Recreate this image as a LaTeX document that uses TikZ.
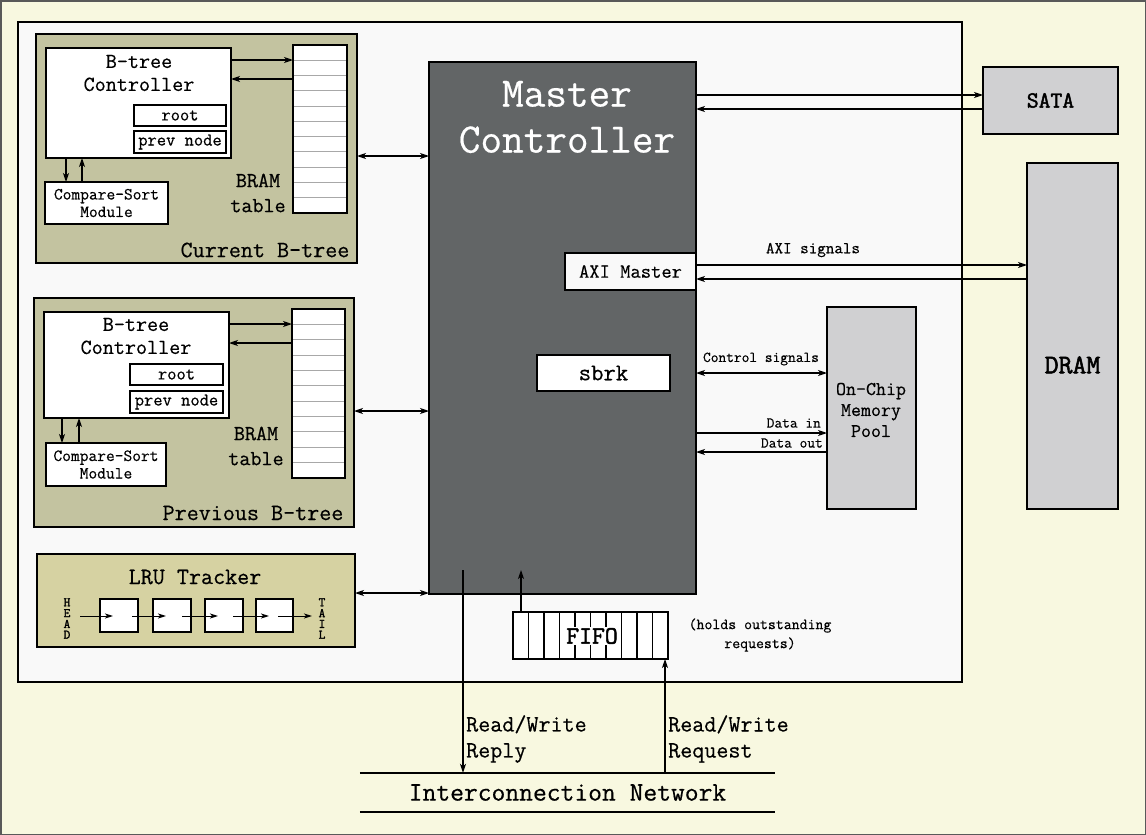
\documentclass[tikz,border=0pt]{standalone}
\usepackage{fontspec}
\setmainfont{Latin Modern Mono}[FakeBold=0.5]
\newfontfamily\boldmono{Latin Modern Mono}[FakeBold=2]
\usetikzlibrary{arrows.meta}
\definecolor{cream}{HTML}{F8F8E0}
\definecolor{panel}{HTML}{F9F9F9}
\definecolor{olive}{HTML}{C3C3A0}
\definecolor{lru}{HTML}{D6D2A2}
\definecolor{master}{HTML}{626566}
\definecolor{dev}{HTML}{D0D0D2}
\definecolor{rowline}{HTML}{A8A8A8}
\newcommand{\fs}[2]{\fontsize{#1}{#2}\selectfont}
\begin{document}
\begin{tikzpicture}[x=1pt,y=-1pt,
  blk/.style={draw=black, line width=1.6pt, inner sep=0pt, outer sep=0pt, anchor=north west},
  lbl/.style={inner sep=0pt, align=center},
  conn/.style={line width=1.2pt, -{Stealth[length=9pt,width=6pt,inset=2.5pt]}},
  dconn/.style={line width=1.2pt, {Stealth[length=9pt,width=6pt,inset=2.5pt]}-{Stealth[length=9pt,width=6pt,inset=2.5pt]}},
  sconn/.style={line width=1pt, -{Stealth[length=8pt,width=5pt,inset=2pt]}}
]
\path[use as bounding box] (0,0) rectangle (1146,835);
\draw[fill=cream, draw=gray!70!black, line width=1.5pt] (0.75,0.75) rectangle (1145.25,834.25);

% main panel
\node[blk, fill=panel, minimum width=944, minimum height=660] (panel) at (18,22) {};

% ---------- Current B-tree ----------
\node[blk, fill=olive, minimum width=321, minimum height=229] (cur) at (36,34) {};
\node[blk, fill=white, minimum width=185, minimum height=110] (curc) at (46,48) {};
\node[lbl, font=\fs{21.5}{23}] (curct) at (139,73) {B-tree\\Controller};
\node[blk, fill=white, minimum width=92, minimum height=21, font=\fs{18}{18}] (curroot) at (134,105) {root};
\node[blk, fill=white, minimum width=92, minimum height=22, font=\fs{18}{18}] (curprev) at (134,131) {prev node};
\node[blk, fill=white, minimum width=54, minimum height=168] (curbram) at (293,45) {};
\foreach \i in {1,...,10}
  \draw[rowline, line width=0.8pt] ([yshift=-\i*15.27pt]curbram.north west) -- ([yshift=-\i*15.27pt]curbram.north east);
\node[blk, draw=black, fill=none, minimum width=54, minimum height=168] at (293,45) {};
\node[lbl, font=\fs{21.5}{25}] (curbt) at (258,193) {BRAM\\table};
\node[blk, fill=white, minimum width=123, minimum height=42] (curcs) at (45,182) {};
\node[lbl, font=\fs{17}{17.5}] (curcst) at (curcs.center) {Compare-Sort\\Module};
\node[lbl, font=\fs{23.4}{24}] (curname) at (265,250) {Current B-tree};
\draw[conn] (curc.east |- 0,60) -- (curbram.west |- 0,60);
\draw[conn] (curbram.west |- 0,79) -- (curc.east |- 0,79);
\draw[conn] (curc.south -| 66,0) -- (curcs.north -| 66,0);
\draw[conn] (curcs.north -| 82,0) -- (curc.south -| 82,0);

% ---------- Previous B-tree ----------
\node[blk, fill=olive, minimum width=320, minimum height=229] (pre) at (34,298) {};
\node[blk, fill=white, minimum width=185, minimum height=106] (prec) at (44,312) {};
\node[lbl, font=\fs{21.5}{23}] (prect) at (136,336) {B-tree\\Controller};
\node[blk, fill=white, minimum width=93, minimum height=21, font=\fs{18}{18}] (preroot) at (130,364) {root};
\node[blk, fill=white, minimum width=93, minimum height=22, font=\fs{18}{18}] (preprev) at (130,391) {prev node};
\node[blk, fill=white, minimum width=53, minimum height=169] (prebram) at (292,309) {};
\foreach \i in {1,...,10}
  \draw[rowline, line width=0.8pt] ([yshift=-\i*15.36pt]prebram.north west) -- ([yshift=-\i*15.36pt]prebram.north east);
\node[blk, draw=black, fill=none, minimum width=53, minimum height=169] at (292,309) {};
\node[lbl, font=\fs{21.5}{25}] (prebt) at (256,446) {BRAM\\table};
\node[blk, fill=white, minimum width=120, minimum height=43] (precs) at (46,443) {};
\node[lbl, font=\fs{17}{17.5}] (precst) at (precs.center) {Compare-Sort\\Module};
\node[lbl, font=\fs{23.4}{24}] (prename) at (253,513) {Previous B-tree};
\draw[conn] (prec.east |- 0,324) -- (prebram.west |- 0,324);
\draw[conn] (prebram.west |- 0,343) -- (prec.east |- 0,343);
\draw[conn] (prec.south -| 62,0) -- (precs.north -| 62,0);
\draw[conn] (precs.north -| 79,0) -- (prec.south -| 79,0);

% ---------- LRU Tracker ----------
\node[blk, fill=lru, minimum width=318, minimum height=93] (lru) at (37,554) {};
\node[lbl, font=\fs{23.4}{24}] (lrut) at (195,577) {LRU Tracker};
\node[blk, fill=white, minimum width=38, minimum height=33] (l1) at (100,599) {};
\node[blk, fill=white, minimum width=38, minimum height=33] (l2) at (153,599) {};
\node[blk, fill=white, minimum width=38, minimum height=33] (l3) at (205,599) {};
\node[blk, fill=white, minimum width=37, minimum height=33] (l4) at (256,599) {};
\foreach \ch [count=\k] in {H,E,A,D}
  \node[lbl, font=\boldmono\fs{13}{13}] (head\k) at (67,591.5+10.8*\k) {\ch};
\foreach \ch [count=\k] in {T,A,I,L}
  \node[lbl, font=\boldmono\fs{13}{13}] (tail\k) at (322,591.5+10.8*\k) {\ch};
\coordinate (h0) at (80,616);
\coordinate (t0) at (312,616);
\draw[sconn] (h0) -- ([xshift=13pt]l1.west |- h0);
\draw[sconn] ([xshift=-6pt]l1.east |- h0) -- ([xshift=13pt]l2.west |- h0);
\draw[sconn] ([xshift=-9pt]l2.east |- h0) -- ([xshift=13pt]l3.west |- h0);
\draw[sconn] ([xshift=-10pt]l3.east |- h0) -- ([xshift=13pt]l4.west |- h0);
\draw[sconn] ([xshift=-15pt]l4.east |- h0) -- (t0);

% ---------- Master Controller ----------
\node[blk, fill=master, minimum width=267, minimum height=532] (mc) at (429,62) {};
\node[lbl, text=white, font=\fs{42}{46}] (mct) at (567,117) {Master\\Controller};
\node[blk, fill=panel, minimum width=131, minimum height=37, font=\fs{20}{20}] (axi) at (565,253) {AXI Master};
\node[blk, fill=white, minimum width=133, minimum height=36, font=\fs{24}{24}] (sbrk) at (537,355) {sbrk};

\draw[dconn] (cur.east |- 0,156) -- (mc.west |- 0,156);
\draw[dconn] (pre.east |- 0,411) -- (mc.west |- 0,411);
\draw[dconn] (lru.east |- 0,593) -- (mc.west |- 0,593);

% ---------- SATA / DRAM / Pool ----------
\node[blk, fill=dev, minimum width=135, minimum height=67, font=\boldmono\fs{23}{23}] (sata) at (983,67) {SATA};
\node[blk, fill=dev, minimum width=91, minimum height=346] (dram) at (1027,163) {};
\node[lbl, font=\boldmono\fs{27}{27}] (dramt) at (1072.5,365) {DRAM};
\node[blk, fill=dev, minimum width=89, minimum height=202] (pool) at (827,307) {};
\node[lbl, font=\fs{19.4}{21}] (poolt) at (871,410) {On-Chip\\Memory\\Pool};

\draw[conn] (mc.east |- 0,95) -- (sata.west |- 0,95);
\draw[conn] (sata.west |- 0,109) -- (mc.east |- 0,109);
\draw[conn] (axi.east |- 0,265) -- (dram.west |- 0,265);
\draw[conn] (dram.west |- 0,279) -- (axi.east |- 0,279);
\node[lbl, font=\fs{16.6}{17}] (axil) at (813,250) {AXI signals};
\draw[dconn] (mc.east |- 0,373) -- (pool.west |- 0,373);
\node[lbl, font=\fs{15}{16}] (ctll) at (761,359) {Control signals};
\draw[conn] (mc.east |- 0,433) -- (pool.west |- 0,433);
\node[lbl, font=\fs{15}{16}, anchor=east] (dinl) at (821,423) {Data in};
\draw[conn] (pool.west |- 0,452) -- (mc.east |- 0,452);
\node[lbl, font=\fs{15}{16}, anchor=east] (doutl) at (823,443) {Data out};

% ---------- FIFO ----------
\node[blk, fill=white, minimum width=155, minimum height=47] (fifo) at (513,612) {};
\foreach \i in {1,...,9}
  \draw[line width=1.4pt] ([xshift=\i*15.5pt]fifo.north west) -- ([xshift=\i*15.5pt]fifo.south west);
\node[fill=white, inner sep=1pt, font=\boldmono\fs{25}{25}] (fifot) at (592,636) {FIFO};
\node[lbl, font=\fs{15.4}{19}] (fifol) at (760,635) {(holds outstanding\\requests)};
\draw[conn] (fifo.north -| 521,0) -- (mc.south -| 521,0) -- ++(0,-24);

% ---------- Interconnection network ----------
\node[lbl, minimum width=415, minimum height=39, font=\fs{26.8}{27}] (net) at (567.5,792.5) {Interconnection Network};
\draw[line width=2pt] (net.north west) -- (net.north east);
\draw[line width=2pt] (net.south west) -- (net.south east);

\coordinate (rep) at (463,570);
\draw[conn] (rep) -- (net.north -| rep);
\draw[conn] (net.north -| 665,0) -- (fifo.south -| 665,0);
\node[lbl, align=left, anchor=west, font=\fs{23.4}{26}] (repl) at (466,739) {Read/Write\\Reply};
\node[lbl, align=left, anchor=west, font=\fs{23.4}{26}] (reql) at (668,739) {Read/Write\\Request};
\end{tikzpicture}
\end{document}
